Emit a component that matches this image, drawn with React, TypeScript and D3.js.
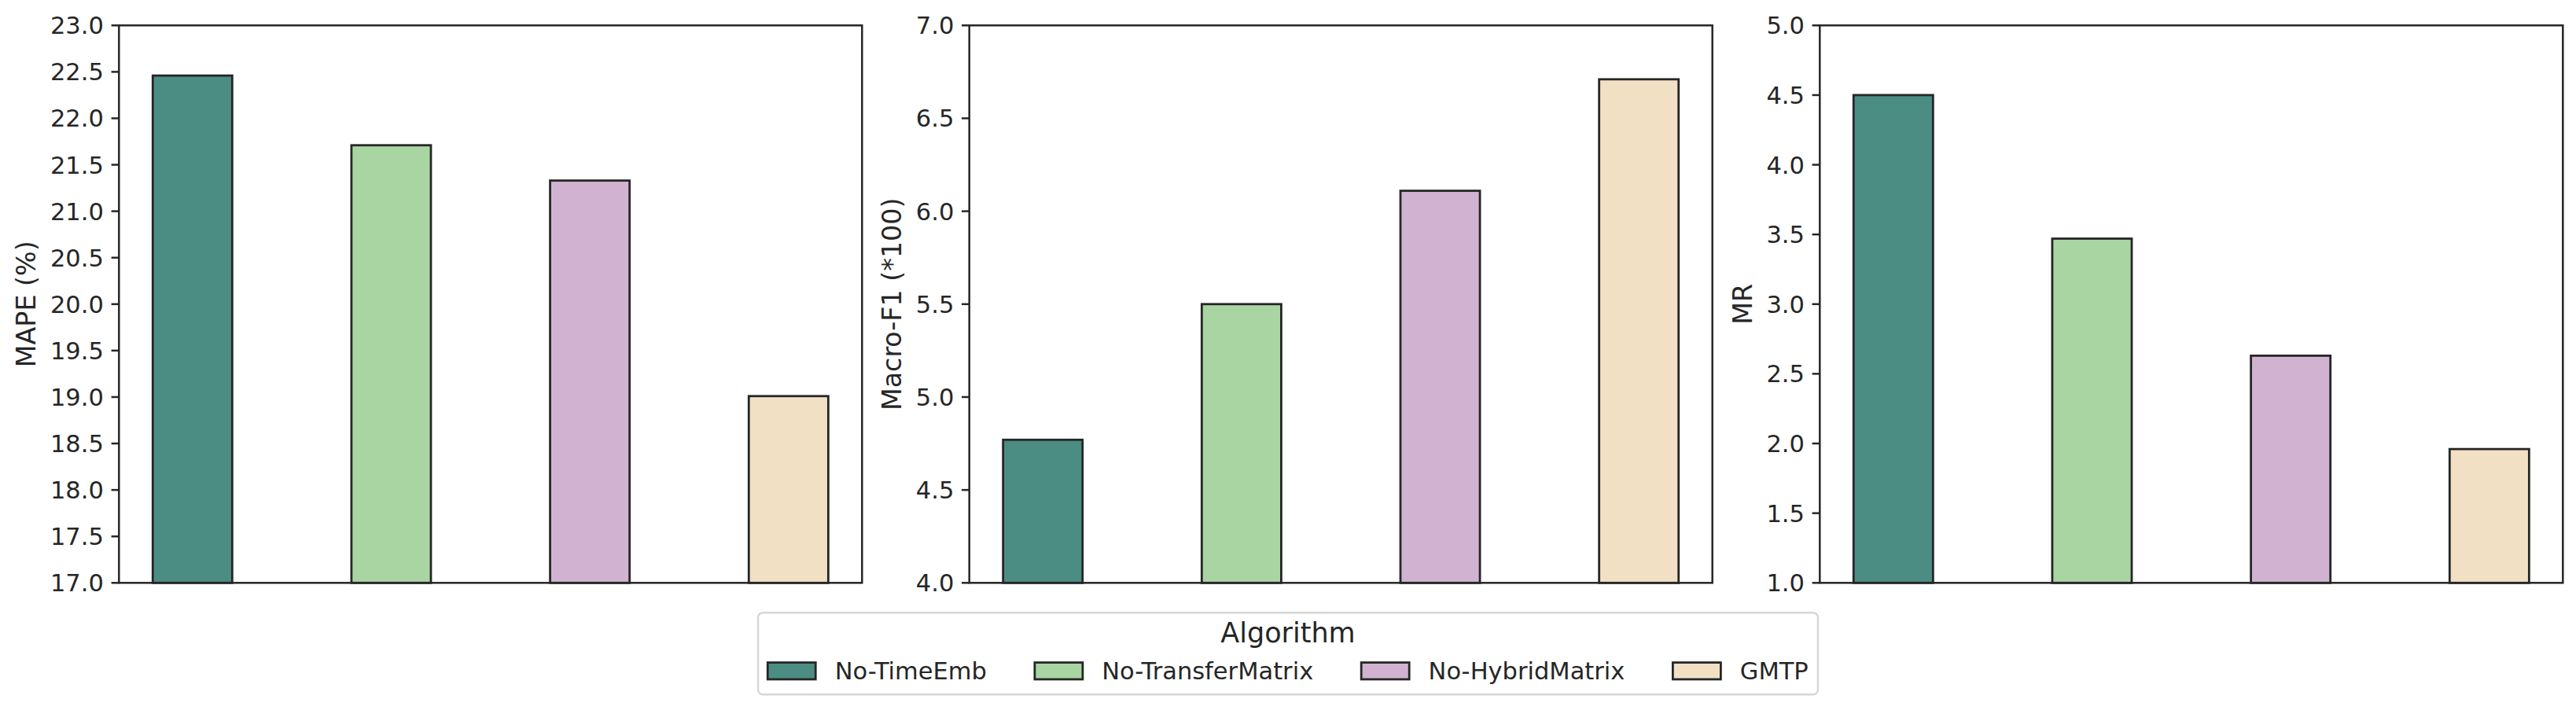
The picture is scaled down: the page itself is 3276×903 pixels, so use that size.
import React from "react";
import * as d3 from "d3";

const algorithms = ["No-TimeEmb", "No-TransferMatrix", "No-HybridMatrix", "GMTP"];
const barColors = ["#4b8d82", "#a9d5a3", "#d1b3d1", "#f2e0c5"];

const mapeValues = [22.46, 21.71, 21.33, 19.01];
const macroF1Values = [4.77, 5.5, 6.11, 6.71];
const mrValues = [4.5, 3.47, 2.63, 1.96];

const mapeTicks = d3.range(17, 23.001, 0.5);
const macroF1Ticks = d3.range(4, 7.001, 0.5);
const mrTicks = d3.range(1, 5.001, 0.5);

const panels = [
  { label: "MAPE (%)", values: mapeValues, domain: [17, 23], ticks: mapeTicks },
  { label: "Macro-F1 (*100)", values: macroF1Values, domain: [4, 7], ticks: macroF1Ticks },
  { label: "MR", values: mrValues, domain: [1, 5], ticks: mrTicks },
];

const W = 3276;
const H = 903;
const FONT = "'DejaVu Sans', sans-serif";
const INK = "#262626";
const TICK_FS = 30.5;
const LABEL_FS = 33.3;
const LEG_FS = 30.5;
const TITLE_FS = 35;

const panelLefts = [151.3, 1232.7, 2314.3];
const panelWidth = 945;
const plotTop = 32.3;
const plotBottom = 741.3;
const tickLen = 9.7;
const tickPad = 9.7;
const labelPad = 11;

let ctx: CanvasRenderingContext2D | null = null;
function measure(text: string, size: number): number {
  if (!ctx) {
    const c = document.createElement("canvas");
    ctx = c.getContext("2d");
  }
  if (!ctx) return text.length * size * 0.6;
  ctx.font = `${size}px 'DejaVu Sans'`;
  return ctx.measureText(text).width;
}

function Panel({ idx }: { idx: number }) {
  const p = panels[idx];
  const left = panelLefts[idx];
  const right = left + panelWidth;
  const x = d3.scaleLinear().domain([-0.37, 3.37]).range([left, right]);
  const y = d3.scaleLinear().domain(p.domain).range([plotBottom, plotTop]);
  const barW = 0.4;
  const fmt = d3.format(".1f");
  const maxTickW = d3.max(p.ticks, (t) => measure(fmt(t), TICK_FS)) || 0;
  const labelX = left - tickLen - tickPad - maxTickW - labelPad - LABEL_FS * 0.236;
  const midY = (plotTop + plotBottom) / 2;
  return (
    <g>
      {p.values.map((v, i) => (
        <rect
          key={i}
          x={x(i - barW / 2)}
          y={y(v)}
          width={x(i + barW / 2) - x(i - barW / 2)}
          height={y(p.domain[0]) - y(v)}
          fill={barColors[i]}
          stroke={INK}
          strokeWidth={2.8}
        />
      ))}
      <rect
        x={left}
        y={plotTop}
        width={panelWidth}
        height={plotBottom - plotTop}
        fill="none"
        stroke={INK}
        strokeWidth={2.5}
      />
      {p.ticks.map((t, i) => (
        <g key={i}>
          <line x1={left - tickLen} x2={left} y1={y(t)} y2={y(t)} stroke={INK} strokeWidth={2.5} />
          <text
            x={left - tickLen - tickPad}
            y={y(t)}
            dy="0.36em"
            textAnchor="end"
            fontFamily={FONT}
            fontSize={TICK_FS}
            fill={INK}
          >
            {fmt(t)}
          </text>
        </g>
      ))}
      <text
        transform={`translate(${labelX},${midY}) rotate(-90)`}
        textAnchor="middle"
        fontFamily={FONT}
        fontSize={LABEL_FS}
        fill={INK}
      >
        {p.label}
      </text>
    </g>
  );
}

function Legend() {
  const pad = 0.4 * LEG_FS;
  const handleW = 2.0 * LEG_FS;
  const handleH = 0.7 * LEG_FS;
  const textPad = 0.8 * LEG_FS;
  const colSpace = 2.0 * LEG_FS;
  const widths = algorithms.map((a) => measure(a, LEG_FS));
  const itemW = widths.map((w) => handleW + textPad + w);
  const totalW = 2 * pad + d3.sum(itemW) + colSpace * (algorithms.length - 1);
  const cx = W / 2;
  const left = cx - totalW / 2;
  const top = 779.3;
  const height = 104;
  const rowMid = top + 74;
  const starts: number[] = [];
  let acc = left + pad;
  itemW.forEach((w) => {
    starts.push(acc);
    acc += w + colSpace;
  });
  return (
    <g>
      <rect
        x={left}
        y={top}
        width={totalW}
        height={height}
        rx={6}
        ry={6}
        fill="#ffffff"
        stroke="#d6d6d6"
        strokeWidth={2.5}
      />
      <text
        x={cx}
        y={top + 37.5}
        textAnchor="middle"
        fontFamily={FONT}
        fontSize={TITLE_FS}
        fill={INK}
      >
        Algorithm
      </text>
      {algorithms.map((a, i) => (
        <g key={a}>
          <rect
            x={starts[i]}
            y={rowMid - handleH / 2}
            width={handleW}
            height={handleH}
            fill={barColors[i]}
            stroke={INK}
            strokeWidth={2.8}
          />
          <text
            x={starts[i] + handleW + textPad}
            y={rowMid + 11}
            fontFamily={FONT}
            fontSize={LEG_FS}
            fill={INK}
          >
            {a}
          </text>
        </g>
      ))}
    </g>
  );
}

export default function App() {
  return (
    <svg
      width={W}
      height={H}
      viewBox={`0 0 ${W} ${H}`}
      style={{ position: "absolute", left: 0, top: 0, background: "#ffffff" }}
    >
      <rect x={0} y={0} width={W} height={H} fill="#ffffff" />
      {panels.map((_, i) => (
        <Panel key={i} idx={i} />
      ))}
      <Legend />
    </svg>
  );
}
